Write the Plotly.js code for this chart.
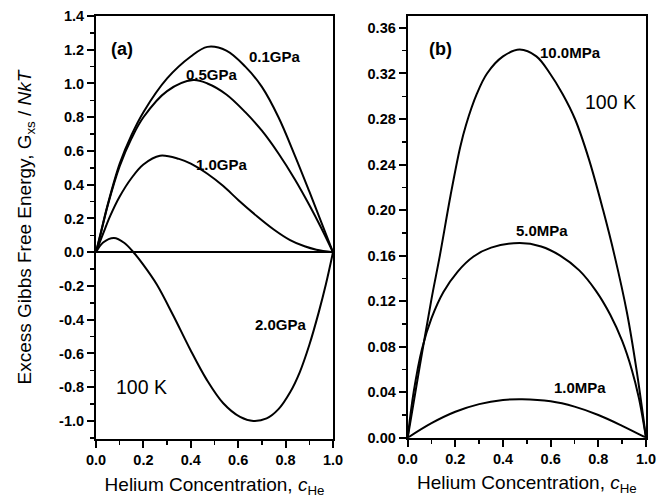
<!DOCTYPE html>
<html>
<head>
<meta charset="utf-8">
<script src="https://cdn.plot.ly/plotly-3.0.1.min.js"></script>
<style>html,body{margin:0;padding:0;background:#fff;}#chart{width:670px;height:504px;}</style>
</head>
<body>
<div id="chart"></div>
<script>
// Panel (a): excess Gibbs free energy vs helium concentration, 100 K, GPa pressures
const cA01 = [0, 0.02, 0.05, 0.10, 0.15, 0.20, 0.30, 0.40, 0.47, 0.55, 0.63, 0.70, 0.77, 0.84, 0.90, 0.95, 1.0];
const gA01 = [0, 0.115, 0.285, 0.525, 0.695, 0.83, 1.03, 1.16, 1.217, 1.195, 1.10, 0.98, 0.80, 0.57, 0.36, 0.18, 0];

const cA05 = [0, 0.02, 0.05, 0.10, 0.15, 0.20, 0.30, 0.41, 0.47, 0.55, 0.63, 0.70, 0.77, 0.84, 0.90, 0.95, 1.0];
const gA05 = [0, 0.11, 0.28, 0.51, 0.675, 0.80, 0.955, 1.02, 1.0, 0.935, 0.83, 0.72, 0.585, 0.43, 0.28, 0.145, 0];

const cA10 = [0, 0.03, 0.06, 0.10, 0.15, 0.20, 0.27, 0.35, 0.40, 0.47, 0.537, 0.60, 0.678, 0.75, 0.819, 0.88, 0.93, 1.0];
const gA10 = [0, 0.11, 0.215, 0.33, 0.44, 0.52, 0.572, 0.553, 0.525, 0.465, 0.392, 0.31, 0.215, 0.135, 0.072, 0.035, 0.015, 0];

const cA20 = [0, 0.03, 0.076, 0.12, 0.158, 0.20, 0.256, 0.326, 0.397, 0.467, 0.537, 0.608, 0.664, 0.72, 0.77, 0.819, 0.86, 0.90, 0.94, 0.97, 1.0];
const gA20 = [0, 0.058, 0.085, 0.055, 0, -0.075, -0.19, -0.375, -0.575, -0.755, -0.895, -0.976, -1.0, -0.985, -0.93, -0.83, -0.71, -0.55, -0.355, -0.19, 0];

// Panel (b): MPa pressures
const cB10 = [0, 0.05, 0.10, 0.135, 0.18, 0.22, 0.245, 0.29, 0.333, 0.40, 0.47, 0.54, 0.597, 0.65, 0.702, 0.76, 0.82, 0.868, 0.92, 0.96, 1.0];
const gB10 = [0, 0.062, 0.122, 0.16, 0.213, 0.255, 0.275, 0.302, 0.32, 0.335, 0.341, 0.335, 0.32, 0.302, 0.28, 0.245, 0.20, 0.16, 0.11, 0.06, 0];

const cB05 = [0, 0.025, 0.06, 0.10, 0.15, 0.21, 0.275, 0.35, 0.47, 0.56, 0.64, 0.72, 0.79, 0.85, 0.90, 0.94, 0.97, 1.0];
const gB05 = [0, 0.04, 0.078, 0.105, 0.128, 0.146, 0.159, 0.167, 0.171, 0.168, 0.16, 0.147, 0.129, 0.108, 0.085, 0.06, 0.035, 0];

const cB01 = [0, 0.10, 0.20, 0.30, 0.40, 0.48, 0.60, 0.70, 0.80, 0.90, 1.0];
const gB01 = [0, 0.0128, 0.0228, 0.0295, 0.0331, 0.0338, 0.032, 0.0273, 0.020, 0.0105, 0];

const seriesLabelsA = ["0.1GPa", "0.5GPa", "1.0GPa", "2.0GPa"];
const seriesLabelsB = ["10.0MPa", "5.0MPa", "1.0MPa"];

const yTickValsA = [-1.0, -0.8, -0.6, -0.4, -0.2, 0.0, 0.2, 0.4, 0.6, 0.8, 1.0, 1.2, 1.4];
const yTickTextA = ["-1.0", "-0.8", "-0.6", "-0.4", "-0.2", "0.0", "0.2", "0.4", "0.6", "0.8", "1.0", "1.2", "1.4"];

const FONT = "Liberation Sans, Arial, Helvetica, sans-serif";
const lineStyle = {color: "#000", width: 2, shape: "spline", smoothing: 1};

function tr(x, y, name, xa, ya) {
  return {x: x, y: y, name: name, type: "scatter", mode: "lines", line: lineStyle, xaxis: xa, yaxis: ya, hoverinfo: "skip"};
}

const data = [
  tr(cA01, gA01, seriesLabelsA[0], "x", "y"),
  tr(cA05, gA05, seriesLabelsA[1], "x", "y"),
  tr(cA10, gA10, seriesLabelsA[2], "x", "y"),
  tr(cA20, gA20, seriesLabelsA[3], "x", "y"),
  tr(cB10, gB10, seriesLabelsB[0], "x2", "y2"),
  tr(cB05, gB05, seriesLabelsB[1], "x2", "y2"),
  tr(cB01, gB01, seriesLabelsB[2], "x2", "y2")
];

const tickFont = {family: FONT, size: 14.5, color: "#000", weight: "bold"};
const titleFont = {family: FONT, size: 19, color: "#000"};
const labelFont = {family: FONT, size: 15, color: "#000", weight: "bold"};
const tempFont = {family: FONT, size: 19.5, color: "#000"};
const panelFont = {family: FONT, size: 18, color: "#000", weight: "bold"};

const xRange = [0, 1.0];
const yRangeA = [-1.107, 1.4];
const yRangeB = [0, 0.3705];

function baseX(domain, anchor) {
  return {
    domain: domain, anchor: anchor, range: xRange, tickmode: "linear", tick0: 0, dtick: 0.2,
    tickformat: ".1f", ticks: "outside", ticklen: 7, tickwidth: 2, tickcolor: "#000",
    minor: {dtick: 0.1, tick0: 0, ticks: "outside", ticklen: 4, tickwidth: 1.5, tickcolor: "#000"},
    showline: true, linewidth: 2, linecolor: "#000", mirror: true,
    showgrid: false, zeroline: false, tickfont: tickFont,
    title: {text: "Helium Concentration, <i>c</i><sub>He</sub>", font: titleFont, standoff: 10}
  };
}
function topX(over, anchor) {
  return {
    overlaying: over, anchor: anchor, side: "top", range: xRange, tickmode: "linear", tick0: 0, dtick: 0.2,
    ticks: "inside", ticklen: 7, tickwidth: 2, tickcolor: "#000",
    minor: {dtick: 0.1, tick0: 0, ticks: "inside", ticklen: 4, tickwidth: 1.5, tickcolor: "#000"},
    showticklabels: false, showline: false, showgrid: false, zeroline: false
  };
}

const layout = {
  width: 670, height: 504,
  margin: {l: 96, r: 24, t: 16, b: 65},
  paper_bgcolor: "#fff", plot_bgcolor: "#fff",
  showlegend: false,
  font: {family: FONT, color: "#000"},
  xaxis: baseX([0, 0.4309], "y"),
  xaxis2: baseX([0.5667, 1], "y2"),
  xaxis3: topX("x", "y"),
  xaxis4: topX("x2", "y2"),
  yaxis: {
    domain: [0, 1], anchor: "x", range: yRangeA, tickmode: "array", tickvals: yTickValsA, ticktext: yTickTextA,
    ticks: "outside", ticklen: 7, tickwidth: 2, tickcolor: "#000",
    minor: {tickmode: "linear", dtick: 0.1, tick0: 0, ticks: "outside", ticklen: 4, tickwidth: 1.5, tickcolor: "#000"},
    showline: true, linewidth: 2, linecolor: "#000", mirror: true,
    showgrid: false, zeroline: true, zerolinecolor: "#000", zerolinewidth: 1.8, tickfont: tickFont,
    title: {text: "Excess Gibbs Free Energy, G<sub>xs</sub> / <i>NkT</i>", font: titleFont, standoff: 22}
  },
  yaxis2: {
    domain: [0.003, 1], anchor: "x2", range: yRangeB, tickmode: "linear", tick0: 0, dtick: 0.04, tickformat: ".2f",
    ticks: "outside", ticklen: 7, tickwidth: 2, tickcolor: "#000",
    minor: {dtick: 0.02, tick0: 0, ticks: "outside", ticklen: 4, tickwidth: 1.5, tickcolor: "#000"},
    showline: true, linewidth: 2, linecolor: "#000", mirror: true,
    showgrid: false, zeroline: false, tickfont: tickFont
  },
  yaxis3: {
    overlaying: "y", anchor: "x", side: "right", range: yRangeA, tickmode: "linear", tick0: 0, dtick: 0.2,
    ticks: "inside", ticklen: 7, tickwidth: 2, tickcolor: "#000",
    minor: {dtick: 0.1, tick0: 0, ticks: "inside", ticklen: 4, tickwidth: 1.5, tickcolor: "#000"},
    showticklabels: false, showline: false, showgrid: false, zeroline: false
  },
  yaxis4: {
    overlaying: "y2", anchor: "x2", side: "right", range: yRangeB, tickmode: "linear", tick0: 0, dtick: 0.04,
    ticks: "inside", ticklen: 7, tickwidth: 2, tickcolor: "#000",
    minor: {dtick: 0.02, tick0: 0, ticks: "inside", ticklen: 4, tickwidth: 1.5, tickcolor: "#000"},
    showticklabels: false, showline: false, showgrid: false, zeroline: false
  },
  annotations: [
    {text: "(a)", x: 0.11, y: 1.203, xref: "x", yref: "y", showarrow: false, font: panelFont},
    {text: seriesLabelsA[0], x: 0.755, y: 1.161, xref: "x", yref: "y", showarrow: false, font: labelFont},
    {text: seriesLabelsA[1], x: 0.489, y: 1.055, xref: "x", yref: "y", showarrow: false, font: labelFont},
    {text: seriesLabelsA[2], x: 0.532, y: 0.521, xref: "x", yref: "y", showarrow: false, font: labelFont},
    {text: seriesLabelsA[3], x: 0.781, y: -0.427, xref: "x", yref: "y", showarrow: false, font: labelFont},
    {text: "100 K", x: 0.194, y: -0.80, xref: "x", yref: "y", showarrow: false, font: tempFont},
    {text: "(b)", x: 0.136, y: 0.3413, xref: "x2", yref: "y2", showarrow: false, font: panelFont},
    {text: seriesLabelsB[0], x: 0.685, y: 0.3387, xref: "x2", yref: "y2", showarrow: false, font: labelFont},
    {text: "100 K", x: 0.853, y: 0.2948, xref: "x2", yref: "y2", showarrow: false, font: tempFont},
    {text: seriesLabelsB[1], x: 0.564, y: 0.1824, xref: "x2", yref: "y2", showarrow: false, font: labelFont},
    {text: seriesLabelsB[2], x: 0.723, y: 0.0437, xref: "x2", yref: "y2", showarrow: false, font: labelFont}
  ]
};

Plotly.newPlot("chart", data, layout, {staticPlot: true, displayModeBar: false});
</script>
</body>
</html>
